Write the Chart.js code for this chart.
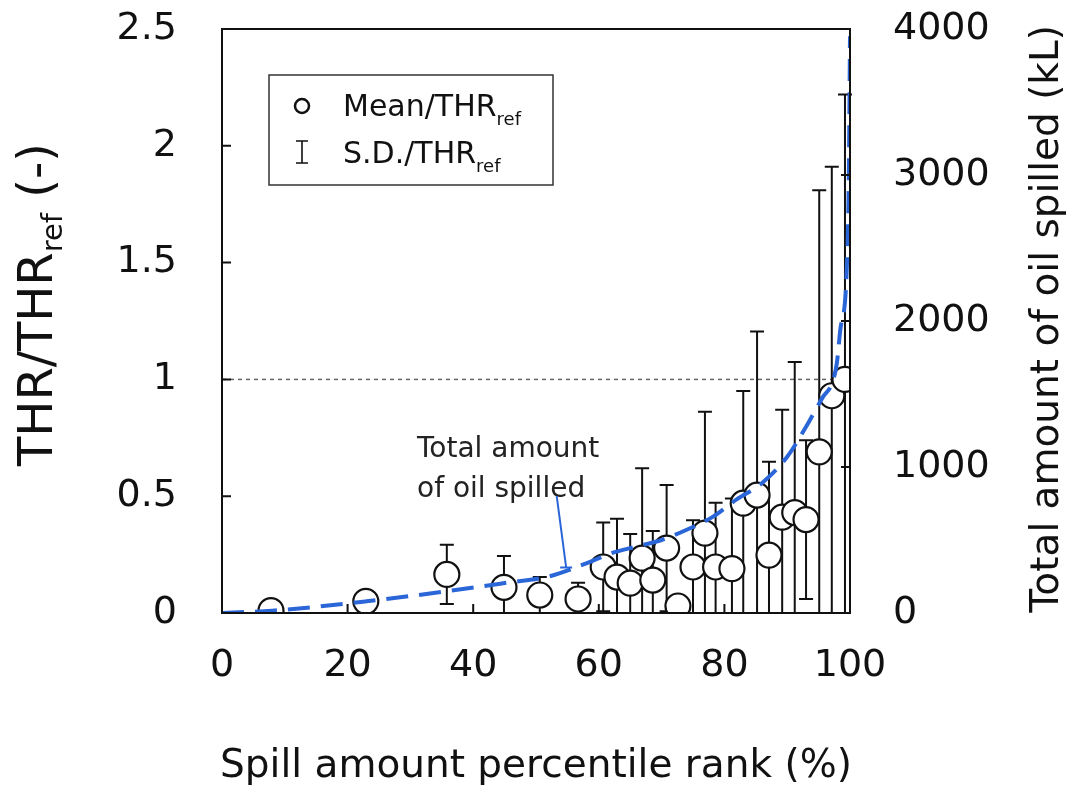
<!DOCTYPE html>
<html>
<head>
<meta charset="utf-8">
<script src="https://cdn.jsdelivr.net/npm/chart.js@4.4.1/dist/chart.umd.min.js"></script>
<style>html,body{margin:0;padding:0;background:#fff;overflow:hidden}canvas{display:block}</style>
</head>
<body>
<canvas id="c" width="1066" height="785"></canvas>
<script>
// spill amount percentile rank (%) of each group, mean and S.D. of THR/THR_ref
const percentile = [7.8, 22.9, 35.8, 44.9, 50.6, 56.7, 60.7, 62.9, 65.0, 66.9, 68.6, 70.8, 72.6, 75.0, 76.9, 78.6, 81.2, 83.0, 85.2, 87.1, 89.2, 91.2, 93.0, 95.1, 97.1, 99.2];
const meanRatio  = [0.01, 0.05, 0.165, 0.11, 0.077, 0.06, 0.197, 0.154, 0.128, 0.235, 0.141, 0.278, 0.03, 0.197, 0.342, 0.197, 0.19, 0.47, 0.505, 0.248, 0.41, 0.43, 0.40, 0.69, 0.93, 1.0];
const sdRatio    = [0.005, 0.01, 0.127, 0.134, 0.077, 0.07, 0.19, 0.25, 0.21, 0.385, 0.21, 0.27, 0.03, 0.2, 0.52, 0.275, 0.3, 0.48, 0.70, 0.40, 0.46, 0.645, 0.34, 1.12, 0.98, 1.22];

// total amount of oil spilled (kL) vs percentile rank
const spillPct = [0, 8, 23, 36, 45, 52, 58, 62, 66, 70, 74, 78, 82, 86, 90, 93, 95.7, 97.1, 97.9, 98.4, 99.5, 99.8, 100];
const spillKL  = [0, 16, 80, 150, 205, 250, 340, 410, 455, 500, 570, 655, 780, 890, 1070, 1275, 1480, 1570, 1710, 1920, 2370, 2940, 3950];

const refRatio = 1;
const FONT = "'DejaVu Sans', sans-serif";
const BLUE = '#2a66d8';

function subText(ctx, parts, x, y){
  // parts: [text, size, baselineShift]
  let cx = x;
  parts.forEach(([t, s, dy]) => {
    ctx.font = s + 'px ' + FONT;
    ctx.fillText(t, cx, y + dy);
    cx += ctx.measureText(t).width;
  });
}

const errorBars = {
  id: 'errorBars',
  beforeDatasetsDraw(chart){
    const {ctx, chartArea: a, scales: {x, y}} = chart;
    ctx.save();
    ctx.strokeStyle = '#666';
    ctx.lineWidth = 1.5;
    ctx.setLineDash([4, 4]);
    const yr = y.getPixelForValue(refRatio);
    ctx.beginPath(); ctx.moveTo(a.left, yr); ctx.lineTo(a.right, yr); ctx.stroke();
    ctx.setLineDash([]);
    ctx.strokeStyle = '#111';
    ctx.lineWidth = 2;
    percentile.forEach((p, i) => {
      const px = x.getPixelForValue(p);
      const hi = meanRatio[i] + sdRatio[i];
      const lo = meanRatio[i] - sdRatio[i];
      const yHi = y.getPixelForValue(hi);
      const yLo = y.getPixelForValue(Math.max(lo, 0));
      ctx.beginPath();
      ctx.moveTo(px, yLo); ctx.lineTo(px, yHi);
      ctx.moveTo(px - 7, yHi); ctx.lineTo(px + 7, yHi);
      if (lo > 0) { ctx.moveTo(px - 7, yLo); ctx.lineTo(px + 7, yLo); }
      ctx.stroke();
    });
    ctx.restore();
  }
};

const frame = {
  id: 'frame',
  afterDraw(chart){
    const {ctx, chartArea: a, scales} = chart;
    ctx.save();
    ctx.strokeStyle = '#111';
    ctx.lineWidth = 2;
    ctx.strokeRect(a.left, a.top, a.right - a.left, a.bottom - a.top);
    const L = 9;
    ctx.beginPath();
    scales.x.ticks.forEach(t => { const px = scales.x.getPixelForValue(t.value); ctx.moveTo(px, a.bottom); ctx.lineTo(px, a.bottom - L); });
    scales.y.ticks.forEach(t => { const py = scales.y.getPixelForValue(t.value); ctx.moveTo(a.left, py); ctx.lineTo(a.left + L, py); });
    scales.y2.ticks.forEach(t => { const py = scales.y2.getPixelForValue(t.value); ctx.moveTo(a.right, py); ctx.lineTo(a.right - L, py); });
    ctx.stroke();

    ctx.fillStyle = '#111';
    ctx.textBaseline = 'alphabetic';
    // x title
    ctx.textAlign = 'center';
    ctx.font = '39px ' + FONT;
    ctx.fillText('Spill amount percentile rank (%)', 536, 777);
    // right title
    ctx.save();
    ctx.translate(1058, 319);
    ctx.rotate(-Math.PI / 2);
    ctx.fillText('Total amount of oil spilled (kL)', 0, 0);
    ctx.restore();
    // left title
    ctx.textAlign = 'left';
    ctx.save();
    ctx.translate(52, 466);
    ctx.rotate(-Math.PI / 2);
    subText(ctx, [['THR/THR', 48, 0], ['ref', 29, 10], [' (-)', 48, 0]], 0, 0);
    ctx.restore();

    // legend
    ctx.strokeStyle = '#333';
    ctx.lineWidth = 1.5;
    ctx.strokeRect(269, 75, 284, 110);
    ctx.strokeStyle = '#111';
    ctx.lineWidth = 2.5;
    ctx.beginPath(); ctx.arc(302, 106, 7, 0, Math.PI * 2); ctx.stroke();
    ctx.lineWidth = 1.6;
    ctx.beginPath();
    ctx.moveTo(302, 141); ctx.lineTo(302, 163);
    ctx.moveTo(296, 141); ctx.lineTo(308, 141);
    ctx.moveTo(296, 163); ctx.lineTo(308, 163);
    ctx.stroke();
    subText(ctx, [['Mean/THR', 30, 0], ['ref', 18, 9]], 343, 116);
    subText(ctx, [['S.D./THR', 30, 0], ['ref', 18, 9]], 343, 163);

    // annotation for the dashed curve
    ctx.fillStyle = '#222';
    ctx.font = '28px ' + FONT;
    ctx.fillText('Total amount', 417, 457);
    ctx.fillText('of oil spilled', 417, 497);
    const x0 = scales.x.getPixelForValue(53.3), y0 = scales.y.getPixelForValue(0.50);
    const x1 = scales.x.getPixelForValue(54.8), y1 = scales.y.getPixelForValue(0.195);
    ctx.strokeStyle = BLUE;
    ctx.lineWidth = 2;
    ctx.beginPath();
    ctx.moveTo(x0, y0); ctx.lineTo(x1, y1);
    ctx.moveTo(x1 - 6, y1); ctx.lineTo(x1 + 6, y1);
    ctx.stroke();
    ctx.restore();
  }
};

const tickFont = {family: FONT, size: 38};

new Chart(document.getElementById('c'), {
  type: 'scatter',
  data: {
    datasets: [
      {
        label: 'Total amount of oil spilled',
        data: spillPct.map((p, i) => ({x: p, y: spillKL[i]})),
        yAxisID: 'y2',
        showLine: true,
        borderColor: BLUE,
        borderWidth: 4,
        borderDash: [22, 11],
        pointRadius: 0,
        cubicInterpolationMode: 'monotone',
        order: 0
      },
      {
        label: 'Mean/THRref',
        data: percentile.map((p, i) => ({x: p, y: meanRatio[i]})),
        yAxisID: 'y',
        pointRadius: 12.5,
        pointBackgroundColor: '#fff',
        pointBorderColor: '#111',
        pointBorderWidth: 2.2,
        order: 1
      }
    ]
  },
  options: {
    responsive: false,
    devicePixelRatio: 1,
    animation: false,
    layout: {autoPadding: false, padding: {top: 29, left: 0, right: 0, bottom: 0}},
    plugins: {legend: {display: false}, tooltip: {enabled: false}},
    scales: {
      x: {
        type: 'linear', min: 0, max: 100,
        ticks: {stepSize: 20, font: tickFont, color: '#111', padding: 5, maxRotation: 0},
        grid: {display: false, drawTicks: true, tickLength: 25},
        border: {display: false},
        afterFit: s => { s.height = 172; }
      },
      y: {
        type: 'linear', position: 'left', min: 0, max: 2.5,
        ticks: {stepSize: 0.5, font: tickFont, color: '#111', padding: 5, callback: v => String(v)},
        grid: {display: false, drawTicks: true, tickLength: 40},
        border: {display: false},
        afterFit: s => { s.width = 222; }
      },
      y2: {
        type: 'linear', position: 'right', min: 0, max: 4000,
        ticks: {stepSize: 1000, font: tickFont, color: '#111', padding: 5, callback: v => String(v)},
        grid: {display: false, drawTicks: true, tickLength: 38},
        border: {display: false},
        afterFit: s => { s.width = 216; }
      }
    }
  },
  plugins: [errorBars, frame]
});
</script>
</body>
</html>
